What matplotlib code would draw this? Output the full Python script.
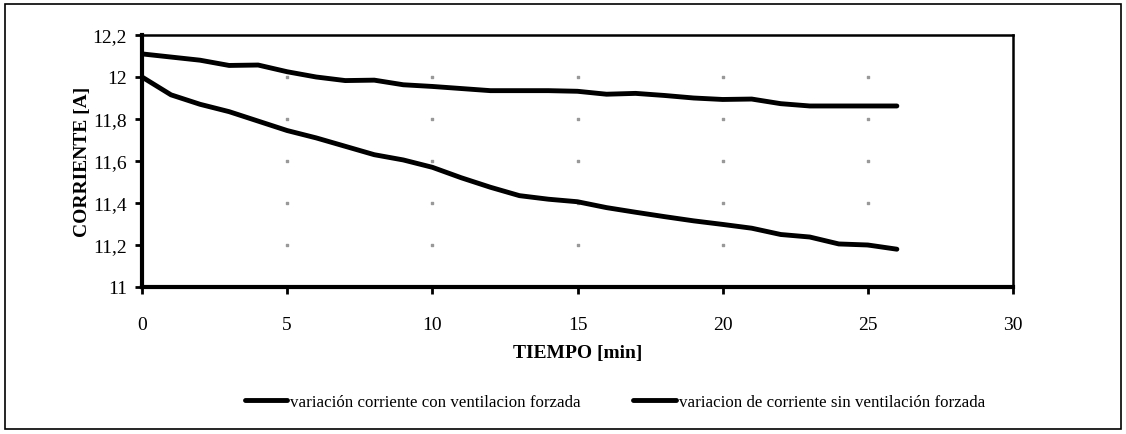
import numpy as np
import matplotlib.pyplot as plt
from matplotlib.patches import Rectangle

plt.rcParams['font.family'] = ['Liberation Serif', 'DejaVu Serif']

# minutes
tiempo = list(range(0, 27))
# current with forced ventilation (lower curve)
con_ventilacion = [12.0, 11.915, 11.87, 11.835, 11.79, 11.745, 11.71, 11.67, 11.63,
                   11.605, 11.57, 11.52, 11.475, 11.435, 11.418, 11.406, 11.378,
                   11.356, 11.335, 11.315, 11.298, 11.28, 11.25, 11.238, 11.205,
                   11.2, 11.18]
# current without forced ventilation (upper curve)
sin_ventilacion = [12.11, 12.095, 12.08, 12.055, 12.057, 12.025, 12.0, 11.983, 11.985,
                   11.963, 11.955, 11.945, 11.935, 11.935, 11.935, 11.932, 11.918,
                   11.922, 11.912, 11.9, 11.893, 11.895, 11.873, 11.862, 11.862,
                   11.862, 11.862]

x_ticks = [0, 5, 10, 15, 20, 25, 30]
y_ticks = [11, 11.2, 11.4, 11.6, 11.8, 12, 12.2]
y_labels = ['11', '11,2', '11,4', '11,6', '11,8', '12', '12,2']
labels = ['variación corriente con ventilacion forzada',
          'variacion de corriente sin ventilación forzada']

fig = plt.figure(figsize=(11.26, 4.35), dpi=100)
ax = fig.add_axes([142 / 1126, 1 - 288 / 435, (1013 - 142) / 1126, (288 - 36) / 435])

# outer frame
fig.patches.append(Rectangle((5 / 1126, 5 / 435), 1116 / 1126, 425 / 435,
                             transform=fig.transFigure, fill=False,
                             edgecolor='black', linewidth=1.2))

# dotted grid, only small dots at intersections
gx, gy = np.meshgrid(x_ticks[1:-1], y_ticks[1:-1])
ax.scatter(gx.ravel(), gy.ravel(), s=2, marker='s', color='#999999', zorder=1)

l1, = ax.plot(tiempo, con_ventilacion, color='black', linewidth=3.5,
              solid_capstyle='round', solid_joinstyle='round', zorder=3)
l2, = ax.plot(tiempo, sin_ventilacion, color='black', linewidth=3.5,
              solid_capstyle='round', solid_joinstyle='round', zorder=3)

ax.set_xlim(0, 30)
ax.set_ylim(11, 12.2)
ax.set_xticks(x_ticks)
ax.set_yticks(y_ticks)
ax.set_yticklabels(y_labels)
ax.tick_params(axis='both', direction='out', length=5, width=2, labelsize=14,
               color='black')
ax.tick_params(axis='x', pad=16)
ax.tick_params(axis='y', pad=6)

for side in ['left', 'bottom']:
    ax.spines[side].set_linewidth(3)
for side in ['top', 'right']:
    ax.spines[side].set_linewidth(1.8)

ax.set_xlabel('TIEMPO [min]', fontsize=14, fontweight='bold', labelpad=8)
ax.set_ylabel('CORRIENTE [A]', fontsize=14, fontweight='bold', labelpad=1)

fig.legend([l1, l2], labels, loc='center', bbox_to_anchor=(615 / 1126, 1 - 403 / 435),
           ncol=2, frameon=False, fontsize=12.2, handlelength=2.5, handletextpad=0.2,
           columnspacing=3.1)

fig.savefig('out.png', dpi=100)
